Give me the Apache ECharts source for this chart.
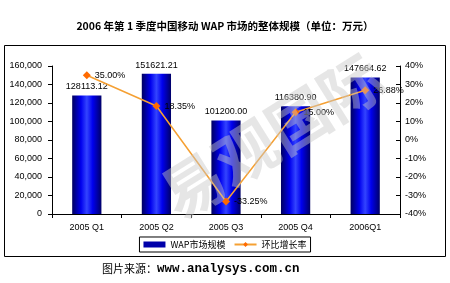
<!DOCTYPE html>
<html><head><meta charset="utf-8">
<script src="https://cdn.jsdelivr.net/npm/echarts@6/dist/echarts.min.js"></script>
<style>html,body{margin:0;padding:0;background:#fff}#c{width:450px;height:283px}</style>
</head><body><div id="c"></div>
<script>
var categories = ['2005 Q1', '2005 Q2', '2005 Q3', '2005 Q4', '2006Q1'];
var marketSize = [128113.12, 151621.21, 101200.00, 116380.90, 147664.62];
var growthRate = [35.00, 18.35, -33.25, 15.00, 26.88];
var titleText = '2006 年第 1 季度中国移动 WAP 市场的整体规模（单位：万元）';
var seriesNames = ['WAP市场规模', '环比增长率'];
var sourceLabel = '图片来源：';
var sourceUrl = 'www.analysys.com.cn';
var watermark = '易观国际';

var chart = echarts.init(document.getElementById('c'), null, {renderer: 'canvas'});
var numFont = '"Liberation Sans", Arial, sans-serif';
var cjk = '"Noto Sans CJK SC", sans-serif';
var barGrad = new echarts.graphic.LinearGradient(0, 0, 1, 0, [
  {offset: 0, color: '#000060'},
  {offset: 0.3, color: '#0000ee'},
  {offset: 0.5, color: '#3344ff'},
  {offset: 0.7, color: '#0000ee'},
  {offset: 1, color: '#000068'}
]);
chart.setOption({
  animation: false,
  backgroundColor: '#fff',
  title: {
    text: titleText, left: 'center', top: 16,
    textStyle: {fontFamily: cjk, fontSize: 10.5, fontWeight: 'bold', color: '#000'}
  },
  graphic: [
    {type: 'rect', shape: {x: 4.5, y: 45.5, width: 441, height: 211}, style: {fill: 'none', stroke: '#000', lineWidth: 1}, z: 0},
    {type: 'text', x: 272, y: 136, rotation: 32 * Math.PI / 180, originX: 0, originY: 0,
     style: {text: watermark, font: 'bold 62px "Noto Sans CJK SC"', fill: 'rgba(200,200,200,0.45)', align: 'center', verticalAlign: 'middle'}, z: 100},
    {type: 'text', left: 102, top: 262,
     style: {text: '{a|' + sourceLabel + '}{b|' + sourceUrl + '}',
       rich: {a: {fontFamily: cjk, fontSize: 11, fill: '#000'},
              b: {fontFamily: '"Liberation Mono", "DejaVu Sans Mono", monospace', fontSize: 12.5, fontWeight: 'bold', fill: '#000'}}}}
  ],
  legend: {
    bottom: 31, left: 'center',
    data: [
      {name: seriesNames[0], icon: 'rect', itemStyle: {color: '#0000aa'}},
      {name: seriesNames[1]}
    ],
    itemWidth: 22, itemHeight: 6, itemGap: 8,
    borderColor: '#000', borderWidth: 1, padding: [3, 4],
    textStyle: {fontFamily: cjk, fontSize: 9, color: '#000'}
  },
  grid: {left: 52, right: 50, top: 66, bottom: 69, containLabel: false},
  xAxis: {
    type: 'category', data: categories, boundaryGap: true,
    axisLine: {lineStyle: {color: '#000', width: 1}},
    axisTick: {show: true, length: 4, lineStyle: {color: '#000'}},
    axisLabel: {fontFamily: numFont, fontSize: 9, color: '#000', margin: 9}
  },
  yAxis: [
    {type: 'value', min: 0, max: 160000, interval: 20000,
     splitLine: {show: false},
     axisLine: {show: true, lineStyle: {color: '#000'}},
     axisTick: {show: true, length: 4, lineStyle: {color: '#000'}},
     axisLabel: {fontFamily: numFont, fontSize: 9, color: '#000', margin: 10,
       formatter: function (v) { return v === 0 ? '0' : v.toLocaleString('en-US'); }}},
    {type: 'value', min: -40, max: 40, interval: 10, position: 'right',
     splitLine: {show: false},
     axisLine: {show: true, lineStyle: {color: '#000'}},
     axisTick: {show: true, inside: true, length: 4, lineStyle: {color: '#000'}},
     axisLabel: {fontFamily: numFont, fontSize: 9, color: '#000', margin: 5,
       formatter: function (v) { return v + '%'; }}}
  ],
  series: [
    {name: seriesNames[0], type: 'bar', data: marketSize, barWidth: '42%',
     itemStyle: {color: barGrad},
     label: {show: true, position: 'top', distance: 4, fontFamily: numFont, fontSize: 9, color: '#000',
       formatter: function (p) { return p.value.toFixed(2); }}},
    {name: seriesNames[1], type: 'line', yAxisIndex: 1, data: growthRate,
     symbol: 'diamond', symbolSize: 8,
     lineStyle: {color: '#f5a033', width: 1.5},
     itemStyle: {color: '#ff6a00'},
     label: {show: true, position: 'right', distance: 4, fontFamily: numFont, fontSize: 9, color: '#000',
       formatter: function (p) { return p.value.toFixed(2) + '%'; }},
     z: 5}
  ]
});
</script></body></html>
